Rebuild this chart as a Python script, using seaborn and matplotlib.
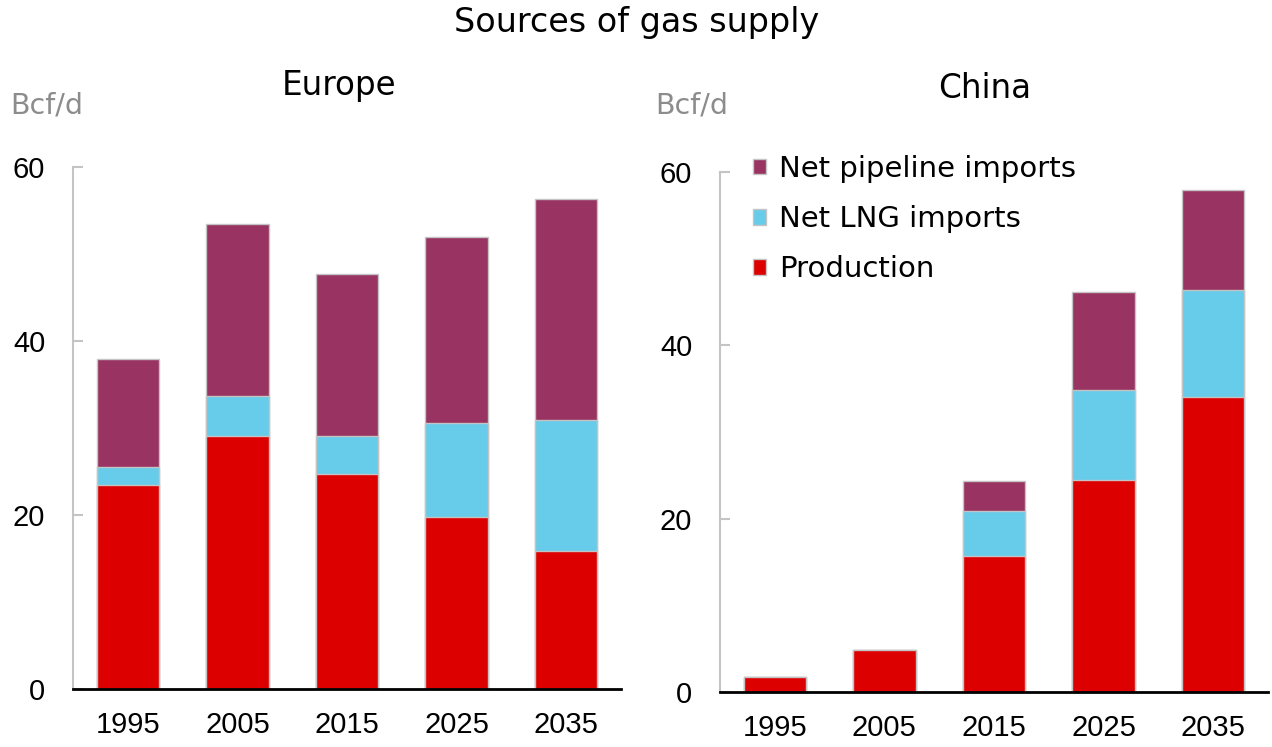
import numpy as np
import matplotlib
matplotlib.use("Agg")
import matplotlib.pyplot as plt
import seaborn as sns
import pandas as pd
from matplotlib.patches import Patch

# Daten (Bcf/d)
jahre = ["1995", "2005", "2015", "2025", "2035"]
serien = ["Production", "Net LNG imports", "Net pipeline imports"]
farben = {"Production": "#dd0000", "Net LNG imports": "#66ccea", "Net pipeline imports": "#993362"}

europa_prod = [23.4, 29.1, 24.7, 19.8, 15.9]
europa_lng = [2.1, 4.6, 4.4, 10.8, 15.0]
europa_pipe = [12.4, 19.7, 18.6, 21.4, 25.4]

china_prod = [1.7, 4.8, 15.7, 24.5, 34.0]
china_lng = [0.0, 0.0, 5.2, 10.3, 12.4]
china_pipe = [0.0, 0.0, 3.5, 11.4, 11.5]

sns.set_style("white")
plt.rcParams["font.family"] = ["Liberation Sans", "DejaVu Sans"]
plt.rcParams["text.color"] = "black"
plt.rcParams["xtick.color"] = "black"
plt.rcParams["ytick.color"] = "black"

titel_font = ["DejaVu Sans"]


def baue_df(region, prod, lng, pipe):
    # kumulierte Werte fuer das Ueberlagern der Balken
    cum1 = np.array(prod)
    cum2 = cum1 + np.array(lng)
    cum3 = cum2 + np.array(pipe)
    rows = []
    for name, werte in zip(serien, [cum1, cum2, cum3]):
        for j, w in zip(jahre, werte):
            rows.append({"region": region, "jahr": j, "serie": name, "wert": w})
    return pd.DataFrame(rows)


df = pd.concat([
    baue_df("Europe", europa_prod, europa_lng, europa_pipe),
    baue_df("China", china_prod, china_lng, china_pipe),
])

fig = plt.figure(figsize=(12.72, 7.47), dpi=100)
ax_eu = fig.add_axes([0.0574, 0.0776, 0.4308, 0.6988])
ax_cn = fig.add_axes([0.5660, 0.0736, 0.4308, 0.6961])

for ax, region in [(ax_eu, "Europe"), (ax_cn, "China")]:
    sub = df[df["region"] == region]
    # von oben nach unten zeichnen
    for name in reversed(serien):
        d = sub[sub["serie"] == name]
        d = d[d["wert"] > 0]
        sns.barplot(data=d, x="jahr", y="wert", order=jahre, color=farben[name],
                    width=0.57, edgecolor="#c4c4c4", linewidth=1, ax=ax, saturation=1)
    ax.set_xlim(-0.5, 4.5)
    ax.set_ylim(0, 60)
    ax.set_yticks([0, 20, 40, 60])
    ax.set_yticklabels(["0", "20", "40", "60"], family="Liberation Sans")
    ax.set_xticks(range(len(jahre)))
    ax.set_xticklabels(jahre, family="Liberation Sans")
    ax.set_xlabel("")
    ax.set_ylabel("")
    for s in ["top", "right"]:
        ax.spines[s].set_visible(False)
    ax.spines["left"].set_color("#c4c4c4")
    ax.spines["left"].set_linewidth(1.5)
    ax.spines["bottom"].set_color("black")
    ax.spines["bottom"].set_linewidth(2)
    ax.tick_params(axis="y", direction="in", length=7, width=1.5, color="#c4c4c4",
                   labelcolor="black", labelsize=21, pad=20, left=True)
    ax.tick_params(axis="x", length=0, labelsize=21, pad=16, labelcolor="black")

fig.text(0.5008, 0.970, "Sources of gas supply", ha="center", va="center",
         fontsize=24, family=titel_font)
fig.text(339 / 1272, 1 - 85 / 747, "Europe", ha="center", va="center", fontsize=23.5, family=titel_font)
fig.text(985 / 1272, 1 - 88 / 747, "China", ha="center", va="center", fontsize=23.5, family=titel_font)
fig.text(10 / 1272, 1 - 106 / 747, "Bcf/d", ha="left", va="center", fontsize=20.5,
         color="#8c8c8c", family=titel_font)
fig.text(655 / 1272, 1 - 106 / 747, "Bcf/d", ha="left", va="center", fontsize=20.5,
         color="#8c8c8c", family=titel_font)

handles = [Patch(facecolor=farben[n], edgecolor="#c4c4c4", linewidth=1) for n in reversed(serien)]
fig.legend(handles, list(reversed(serien)), loc="upper left",
           bbox_to_anchor=(753 / 1272, 1 - 155 / 747), frameon=False,
           prop={"family": titel_font, "size": 21},
           handlelength=0.45, handleheight=0.45, handletextpad=0.45, labelspacing=0.76,
           borderpad=0, borderaxespad=0)

fig.savefig("out.png", dpi=100)
